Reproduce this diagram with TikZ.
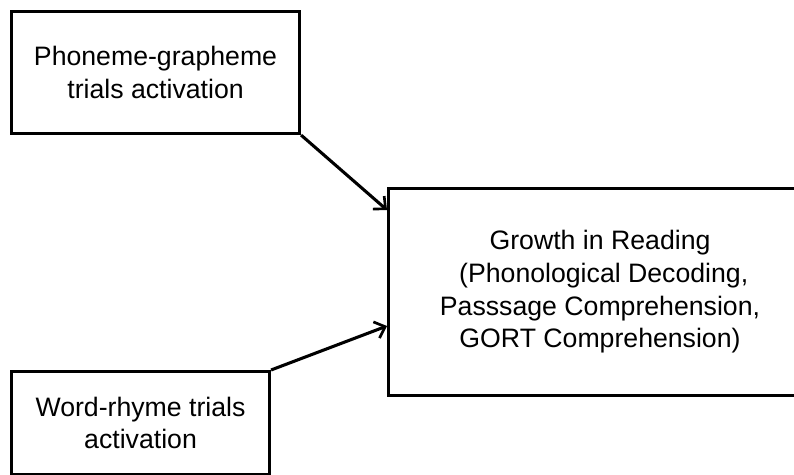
\documentclass[tikz,border=0pt]{standalone}
\usepackage{fontspec}
\setmainfont{Liberation Sans}
\usetikzlibrary{arrows.meta}
\begin{document}
\begin{tikzpicture}[x=0.75pt, y=-0.75pt,
  box/.style={draw=black, line width=2.3pt, fill=white, inner sep=0pt,
    align=center, anchor=north west,
    font=\fontsize{20}{24.5}\selectfont},
  link/.style={draw=black, line width=2.3pt,
    -{Straight Barb[length=7pt, width=13pt, line width=2pt]}}]
  \useasboundingbox (0,0) rectangle (794,475);
  \begin{scope}
    \clip (0,0) rectangle (794,475);
    % predictor boxes and outcome box
    \node[box, minimum width=216pt, minimum height=91.5pt] (pg) at (10,10)
      {Phoneme-grapheme\\trials activation};
    \node[box, minimum width=193.5pt, minimum height=77.25pt] (wr) at (10,370)
      {Word-rhyme trials\\activation};
    \node[box, minimum width=317.25pt, minimum height=155.25pt] (gr) at (387,187)
      {Growth in Reading\\\ (Phonological Decoding,\\Passsage Comprehension,\\GORT Comprehension)};
  \end{scope}
  % effects
  \draw[link] (pg.south east) -- ([yshift=-17.25pt]gr.north west);
  \draw[link] (wr.north east) -- ([yshift=-104.25pt]gr.north west);
\end{tikzpicture}
\end{document}
